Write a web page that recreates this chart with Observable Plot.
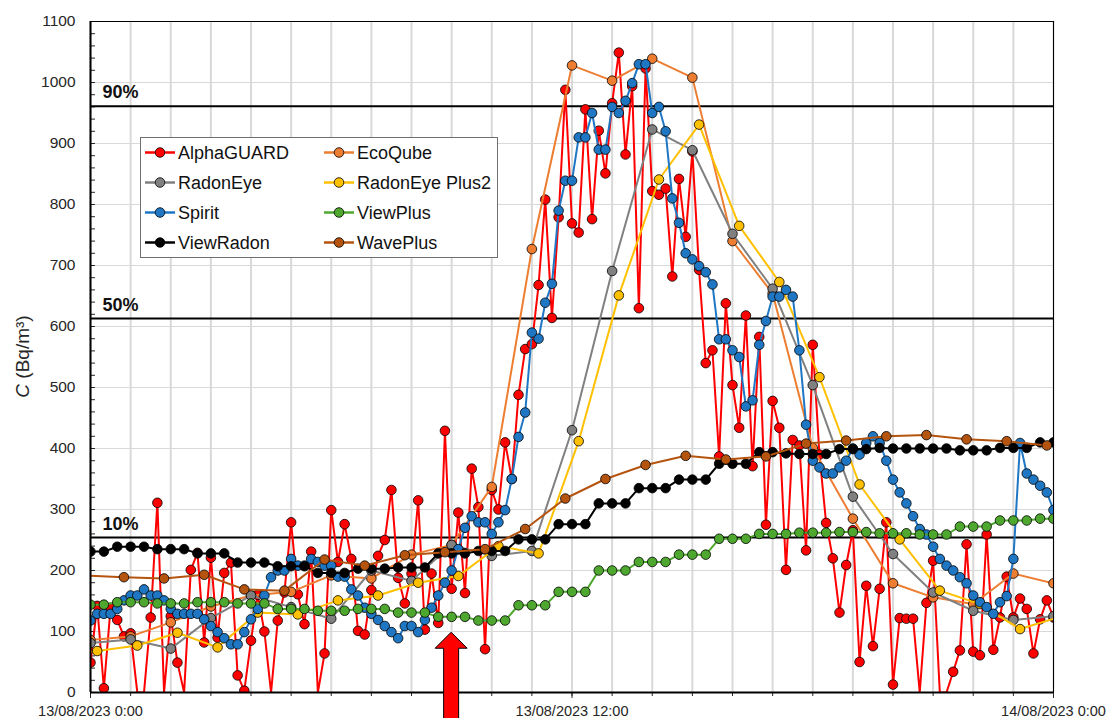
<!DOCTYPE html>
<html><head><meta charset="utf-8">
<script src="https://cdn.jsdelivr.net/npm/d3@7"></script>
<script src="https://cdn.jsdelivr.net/npm/@observablehq/plot@0.6"></script>
<style>
body{margin:0;background:#fff;}
#chart{position:relative;width:1107px;height:718px;}
</style>
</head><body><div id="chart"></div>
<script>
// ---- data (Bq/m3) ----
const startTime = Date.UTC(2023, 7, 13, 0, 0);   // 13/08/2023 0:00
const endTime = Date.UTC(2023, 7, 14, 0, 0);     // 14/08/2023 0:00

// 10-minute series (0:00 .. 24:00)
const alphaGUARD = [
  49,142,7,139,119,92, 97,0,0,123,311,0, 125,49,0,201,229,82, 221,90,196,213,28,3,
  85,160,100,0,118,164, 279,161,112,231,0,64, 299,214,276,219,101,95, 168,224,250,332,188,146,
  195,315,103,195,114,429, 170,295,163,367,304,71, 332,300,410,350,488,563, 571,668,808,614,779,988,
  769,754,956,776,921,851, 966,1049,882,994,630,1023, 822,816,826,682,842,747, 887,693,540,561,387,638,
  504,434,618,371,583,275, 478,434,201,414,405,233, 570,390,278,220,131,209, 266,50,175,76,170,279,
  13,122,121,121,0,147, 216,0,0,34,69,243, 67,61,259,70,123,190, 123,154,137,64,120,151, 123];
const spirit = [
  118,129,129,129,137,151, 159,159,169,159,159,151, 137,129,129,129,129,120, 109,99,89,79,79,99,
  120,137,159,189,200,200, 219,208,208,219,214,208, 208,190,190,169,159,139, 129,119,109,99,89,109,
  109,99,119,139,159,180, 200,235,270,289,279,279, 260,279,299,350,419,459, 590,580,639,670,790,839,
  839,910,910,950,890,890, 960,950,970,999,1030,1030, 950,960,920,810,770,720, 710,699,689,669,579,579,
  561,550,469,479,570,609, 649,649,660,649,561,439, 380,369,359,359,369,380, 400,390,409,420,409,380,
  349,328,310,289,268,259, 239,219,208,200,189,179, 159,148,140,129,148,158, 219,409,359,349,339,328, 299];
// 20-minute series (0:00 .. 24:00)
const viewPlus = [
  144,144,148, 148,148,146, 146,146,148, 148,148,146, 146,146,137, 137,137,134, 134,134,137, 137,137,131,
  131,131,124, 124,124,118, 118,118,143, 143,143,165, 165,165,200, 200,200,214, 214,214,226, 226,226,252,
  252,252,260, 260,260,262, 262,262,263, 263,263,261, 261,261,259, 259,259,272, 272,272,282, 282,282,285, 285];
const viewRadon = [
  231,231,239, 239,239,235, 235,235,228, 228,228,213, 213,213,207, 207,207,196, 196,196,203, 203,203,205,
  205,205,228, 228,228,232, 232,232,251, 251,251,276, 276,276,310, 310,310,335, 335,335,349, 349,349,375,
  375,375,394, 394,392,391, 391,391,399, 399,399,401, 400,400,400, 400,400,397, 397,397,401, 401,401,410, 410];
// hourly series
const ecoQube = [86,92,115,141,159,165,192,187,226,242,337,727,1028,1003,1039,1008,740,654,401,285,179,156,145,195,179]; // 0:00..24:00
const radonEye = [81,87,72,122,159,140,121,200,183,242,224,232,430,691,923,889,752,662,504,321,227,164,134,119,125]; // 0:00..24:00
const radonEyePlus2 = [62,68,77,98,74,131,128,151,159,180,191,240,228,412,651,841,931,765,673,517,341,251,167,145,104,124]; // -0:50..24:10
const wavePlus = [192,189,187,193,169,167,218,208,225,230,235,268,318,350,373,388,382,387,408,413,420,422,415,412,405]; // -0:10..23:50

// sampling schedule: first sample offset and interval in minutes
const seriesNames  = ["AlphaGUARD","EcoQube","RadonEye","RadonEye Plus2","Spirit","ViewPlus","ViewRadon","WavePlus"];
const seriesValues = [alphaGUARD, ecoQube, radonEye, radonEyePlus2, spirit, viewPlus, viewRadon, wavePlus];
const seriesStart  = [0, 0, 0, -50, 0, 0, 0, -10];
const seriesStep   = [10, 60, 60, 60, 10, 20, 20, 60];
const seriesColors = ["#FF0000","#ED7D31","#808080","#FFC000","#1F77C4","#4EA72E","#000000","#B5540F"];

const limitLabels = ["90%","50%","10%"];
const limitValues = [961, 613, 254];

const xTickLabels = ["13/08/2023 0:00","13/08/2023 12:00","14/08/2023 0:00"];
const xTickHours = [0, 12, 24];
const arrowHour = 9;
const arrowTipValue = 98;

// ---- build table ----
const rows = seriesNames.flatMap((name, k) =>
  seriesValues[k].map((v, i) => ({
    series: name,
    time: new Date(startTime + (seriesStart[k] + i * seriesStep[k]) * 60000),
    value: v
  })));
const hourDate = h => new Date(startTime + h * 3600000);
const hourTicks = d3.range(0, 25).map(hourDate);
const labelTicks = xTickHours.map(hourDate);
const labelFor = d => xTickLabels[labelTicks.findIndex(t => +t === +d)] ?? "";

const seriesMarks = seriesNames.flatMap((name, k) => {
  const data = rows.filter(r => r.series === name);
  return [
    Plot.line(data, {x: "time", y: "value", stroke: seriesColors[k], strokeWidth: 2, clip: true}),
    Plot.dot(data.filter(d => d.value > 0), {x: "time", y: "value", r: 4.8, fill: seriesColors[k],
      stroke: "black", strokeWidth: 0.8, clip: true})
  ];
});

const svg = Plot.plot({
  width: 1107, height: 718,
  marginLeft: 90, marginRight: 54, marginTop: 21, marginBottom: 26,
  style: {fontFamily: "Liberation Sans, Arial, sans-serif", color: "#262626", background: "#fff", overflow: "visible"},
  x: {type: "utc", domain: [new Date(startTime), new Date(endTime)]},
  y: {domain: [0, 1100]},
  marks: [
    Plot.gridX({ticks: hourTicks, stroke: "#d9d9d9", strokeOpacity: 1, strokeWidth: 2}),
    Plot.gridY({ticks: d3.range(0, 1101, 100), stroke: "#d9d9d9", strokeOpacity: 1, strokeWidth: 1}),
    Plot.axisY({ticks: d3.range(0, 1101, 100), tickSize: 0, tickPadding: 15, fontSize: 15.5, label: null,
      tickFormat: d => String(d)}),
    Plot.axisY({ticks: d3.range(0, 1101, 20), tickSize: 5, dx: 5, tickFormat: () => "", label: null}),
    Plot.axisX({ticks: hourTicks, tickSize: 4, tickFormat: () => "", label: null}),
    Plot.axisX({ticks: labelTicks, tickSize: 6, tickPadding: 7, tickFormat: labelFor, fontSize: 14.5, label: null}),
    Plot.ruleY(limitValues, {stroke: "black", strokeWidth: 2}),
    Plot.text(limitLabels, {x: () => new Date(startTime), y: (d, i) => limitValues[i], text: d => d,
      dx: 12, dy: -8, textAnchor: "start", lineAnchor: "bottom", fontWeight: "bold", fontSize: 18, fill: "#111"}),
    ...seriesMarks,
    Plot.frame({stroke: "black", strokeWidth: 1}),
    Plot.ruleX([new Date(startTime)], {stroke: "black", strokeWidth: 2}),
    Plot.ruleY([0], {stroke: "black", strokeWidth: 2})
  ]
});

const root = d3.select(svg);
// y-axis title
const yt = root.append("text")
  .attr("transform", `translate(29, ${(21 + 692) / 2}) rotate(-90)`)
  .attr("text-anchor", "middle")
  .attr("font-size", 19).attr("fill", "#262626");
yt.append("tspan").attr("font-style", "italic").text("C");
yt.append("tspan").text(" (Bq/m³)");

// legend
const lg = root.append("g").attr("font-size", 18).attr("fill", "#111").attr("text-anchor", "start");
lg.append("rect").attr("x", 140.5).attr("y", 137.5).attr("width", 357).attr("height", 120)
  .attr("fill", "white").attr("stroke", "#6f6f6f").attr("stroke-width", 1);
seriesNames.forEach((name, k) => {
  const col = k % 2, row = Math.floor(k / 2);
  const x0 = 145 + col * 179, y0 = 152.5 + row * 30;
  lg.append("line").attr("x1", x0).attr("x2", x0 + 30).attr("y1", y0).attr("y2", y0)
    .attr("stroke", seriesColors[k]).attr("stroke-width", 2.5);
  lg.append("circle").attr("cx", x0 + 15).attr("cy", y0).attr("r", 4.8)
    .attr("fill", seriesColors[k]).attr("stroke", "black").attr("stroke-width", 0.8);
  lg.append("text").attr("x", x0 + 33).attr("y", y0).attr("dy", "0.35em")
    .attr("text-anchor", "start").text(name);
});

// red arrow marking 9:00
const ax = svg.scale("x").apply(hourDate(arrowHour));
const ay = svg.scale("y").apply(arrowTipValue);
const hw = 16, sw = 7.5, hh = 16, bottom = 730;
root.append("path")
  .attr("d", `M${ax},${ay} L${ax + hw},${ay + hh} L${ax + sw},${ay + hh} L${ax + sw},${bottom} L${ax - sw},${bottom} L${ax - sw},${ay + hh} L${ax - hw},${ay + hh} Z`)
  .attr("fill", "#FF0000").attr("stroke", "black").attr("stroke-width", 1);

document.getElementById("chart").appendChild(svg);
</script>
</body></html>
